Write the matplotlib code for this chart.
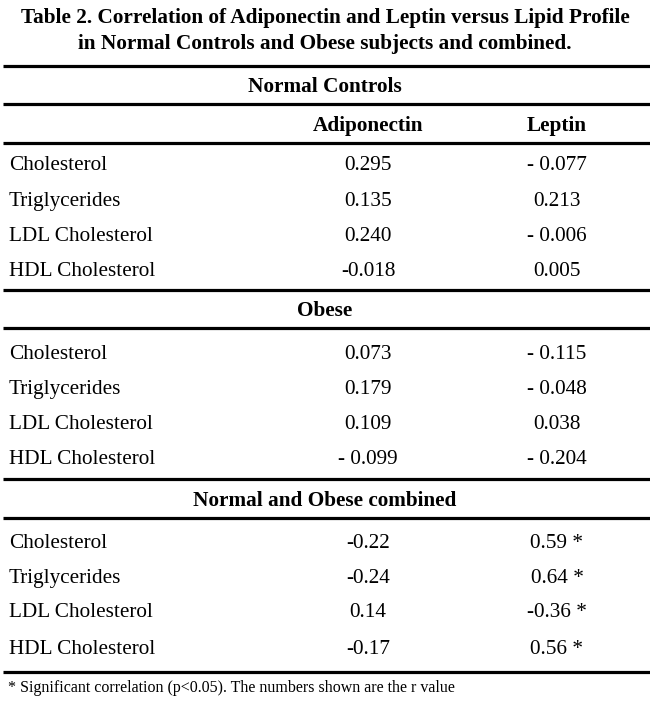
import matplotlib
matplotlib.use("Agg")
import matplotlib.pyplot as plt

title_lines = ["Table 2. Correlation of Adiponectin and Leptin versus Lipid Profile",
               "in Normal Controls and Obese subjects and combined."]
columns = ["Adiponectin", "Leptin"]
row_labels = ["Cholesterol", "Triglycerides", "LDL Cholesterol", "HDL Cholesterol"]
groups = ["Normal Controls", "Obese", "Normal and Obese combined"]
adiponectin = [
    ["0.295", "0.135", "0.240", "-0.018"],
    ["0.073", "0.179", "0.109", "- 0.099"],
    ["-0.22", "-0.24", "0.14", "-0.17"],
]
leptin = [
    ["- 0.077", "0.213", "- 0.006", "0.005"],
    ["- 0.115", "- 0.048", "0.038", "- 0.204"],
    ["0.59 *", "0.64 *", "-0.36 *", "0.56 *"],
]
footnote = "* Significant correlation (p<0.05). The numbers shown are the r value"

W, H = 650, 703
fig = plt.figure(figsize=(W / 100, H / 100), dpi=100)
ax = fig.add_axes([0, 0, 1, 1])
ax.set_xlim(0, W)
ax.set_ylim(H, 0)
ax.axis("off")

serif = ["Liberation Serif", "DejaVu Serif"]
fs = 15.3
VA = "center_baseline"

title_y = [16, 42]
for i, t in enumerate(title_lines):
    ax.text(325, title_y[i], t, ha="center", va=VA, fontsize=15.3,
            fontweight="bold", family=serif)

def hline(y):
    ax.plot([3, 650], [y, y], color="black", lw=2.3, solid_capstyle="butt")

col_x = [368, 557]
group_y = [85, 309, 498]
rows_y = [[163, 199, 234, 269], [352, 387, 422, 457], [541, 576, 610, 647]]
lines_above = [66, 290, 479]
lines_below = [104, 328, 518]

for g in range(3):
    hline(lines_above[g])
    hline(lines_below[g])
    ax.text(325, group_y[g], groups[g], ha="center", va=VA, fontsize=fs,
            fontweight="bold", family=serif)
    for r in range(4):
        y = rows_y[g][r]
        ax.text(9, y, row_labels[r], ha="left", va=VA, fontsize=fs, family=serif)
        ax.text(col_x[0], y, adiponectin[g][r], ha="center", va=VA, fontsize=fs, family=serif)
        ax.text(col_x[1], y, leptin[g][r], ha="center", va=VA, fontsize=fs, family=serif)

for c, x in enumerate(col_x):
    ax.text(x, 123, columns[c], ha="center", va=VA, fontsize=fs,
            fontweight="bold", family=serif)
hline(143)
hline(672)
ax.text(8, 686, footnote, ha="left", va=VA, fontsize=11.55, family=serif)

fig.savefig("out.png", dpi=100)
